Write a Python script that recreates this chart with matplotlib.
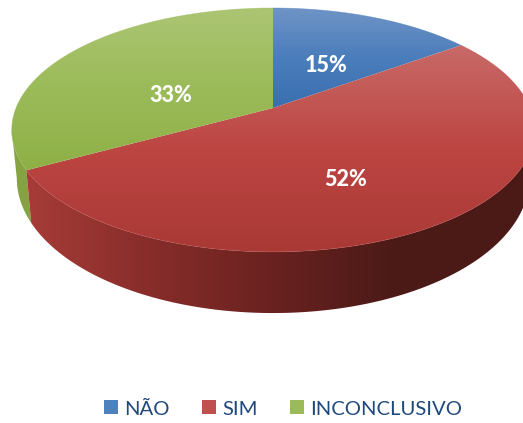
import numpy as np
import matplotlib
matplotlib.use('Agg')
import matplotlib.pyplot as plt
from matplotlib.colors import LinearSegmentedColormap
from matplotlib.patches import Patch, Polygon

labels = ['NÃO', 'SIM', 'INCONCLUSIVO']
values = [15, 52, 33]
legend_colors = ['#4f81bd', '#c0504d', '#9bbb59']
top_stops = [
    ['#6f94c6', '#4a7dbb', '#3a6fb0'],
    ['#c86a68', '#bd4542', '#a93935'],
    ['#acc574', '#9bbb59', '#8eb046'],
]
side_stops = [
    ['#3a6fb0', '#3a6fb0'],
    ['#aa3e3a', '#8a2e2b', '#6b2220', '#4b1a17', '#4b1a17'],
    ['#86a443', '#7a963c'],
]
label_pos = [(326, 66), (346, 179), (171, 95)]

plt.rcParams['font.family'] = ['Lato', 'DejaVu Sans']

fig = plt.figure(figsize=(5.23, 4.23), dpi=100)
ax = fig.add_axes([0, 0, 1, 1])
ax.set_xlim(0, 523)
ax.set_ylim(423, 0)
ax.axis('off')

k = 0.18


# tilted disc, the projection makes the front of the pie look bigger
def rim(theta, a, y0, b):
    u, v = np.sin(theta), np.cos(theta)
    d = 1 + k * v
    return np.column_stack((273 + a * u / d, (y0 + b * v) / d))


def top_rim(theta):
    return rim(theta, 257, 108, -98.56)


def bottom_rim(theta):
    return rim(theta, 252, 154.2, -102.5)


def fill_gradient(pts, stops, extent, vertical=True, z=1):
    cmap = LinearSegmentedColormap.from_list('g', stops)
    grad = np.linspace(0, 1, 256)
    grad = grad.reshape(-1, 1) if vertical else grad.reshape(1, -1)
    im = ax.imshow(grad, cmap=cmap, extent=extent, aspect='auto', zorder=z,
                   origin='upper' if vertical else 'lower', interpolation='bilinear')
    poly = Polygon(pts, closed=True, transform=ax.transData, fc='none', ec='none')
    ax.add_patch(poly)
    im.set_clip_path(poly)


angles = np.cumsum([0] + values) / sum(values) * 2 * np.pi

# only the front of the wall shows, from one silhouette point to the other
right_edge = np.arccos(-k)
left_edge = 2 * np.pi - right_edge

# sides first, tops go over them
for i in [2, 1]:
    t = np.linspace(max(angles[i], right_edge), min(angles[i + 1], left_edge), 300)
    pts = np.vstack((top_rim(t), bottom_rim(t[::-1])))
    fill_gradient(pts, side_stops[i], (10, 523, 423, 0), vertical=False, z=1)

for i in range(3):
    t = np.linspace(angles[i], angles[i + 1], 300)
    pts = np.vstack(([[273, 108]], top_rim(t)))
    ymin, ymax = pts[:, 1].min(), pts[:, 1].max()
    fill_gradient(pts, top_stops[i], (0, 523, ymax, ymin), z=2)
    edge = top_rim(t)
    ax.plot(edge[:, 0], edge[:, 1], color=legend_colors[i], lw=0.5, alpha=0.5, zorder=3)
    ax.text(label_pos[i][0], label_pos[i][1], f'{values[i]}%', color='white',
            fontsize=15.5, fontweight='black', ha='center', va='center', zorder=4)

ax.set_xlim(0, 523)
ax.set_ylim(423, 0)

handles = [Patch(facecolor=c, label=l) for c, l in zip(legend_colors, labels)]
ax.legend(handles=handles, ncol=3, frameon=False, loc='center', bbox_to_anchor=(283, 409),
          bbox_transform=ax.transData, fontsize=14.6, labelcolor='#1f497d',
          handlelength=0.69, handleheight=0.69, handletextpad=0.3, columnspacing=1.6)

fig.savefig('out.png', dpi=100)
